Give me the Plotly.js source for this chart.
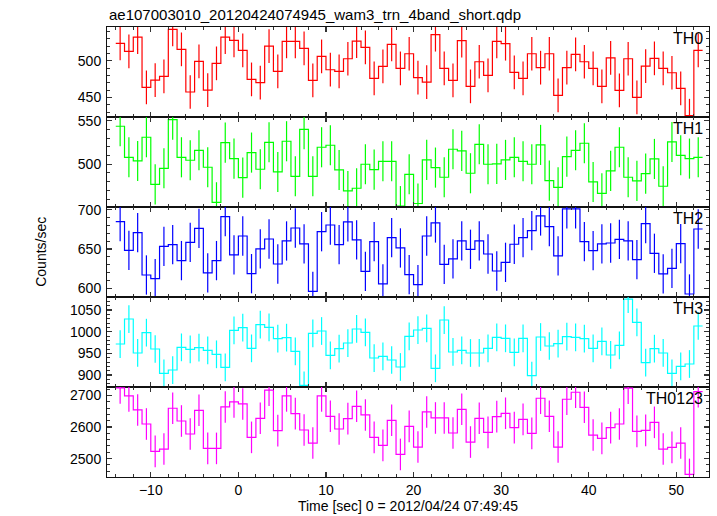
<!DOCTYPE html>
<html>
<head>
<meta charset="utf-8">
<script src="https://cdn.plot.ly/plotly-3.0.1.min.js"></script>
<style>html,body{margin:0;padding:0;background:#fff;}#chart{width:717px;height:516px;}</style>
</head>
<body>
<div id="chart"></div>
<script>
// ---- data ----
const time = [-13.5,-12.5,-11.5,-10.5,-9.5,-8.5,-7.5,-6.5,-5.5,-4.5,-3.5,-2.5,-1.5,-0.5,0.5,1.5,2.5,3.5,4.5,5.5,6.5,7.5,8.5,9.5,10.5,11.5,12.5,13.5,14.5,15.5,16.5,17.5,18.5,19.5,20.5,21.5,22.5,23.5,24.5,25.5,26.5,27.5,28.5,29.5,30.5,31.5,32.5,33.5,34.5,35.5,36.5,37.5,38.5,39.5,40.5,41.5,42.5,43.5,44.5,45.5,46.5,47.5,48.5,49.5,50.5,51.5,52.5];
const binHalfWidth = 0.5;

const th0 = [523.6,512.7,532.3,463.6,473.6,478.6,542.7,515.5,457.3,499,460,496.4,532.3,527.7,514,474.5,470,520,485.5,526.4,526.4,516.8,473.2,505.9,487.7,485.5,502.7,526.8,518.2,475.9,492.3,522.3,489.5,509.5,476.8,470.9,535.5,489.5,473.2,527.3,465,498.6,480,526.4,523.2,484.1,475.9,509.5,490.5,509.5,452.7,490.5,508.6,498.6,489.5,465,504,459.5,502.7,450,492.7,503.2,489.5,483.6,462.3,425,514];
const th1 = [543.6,508,503.8,531,477,495.4,551.2,508,504.6,516,496.6,456.4,524.8,506.5,484.7,513.4,494.3,525.2,491.2,526.4,486.2,540.1,486.2,519.5,521.8,493.5,469.4,472.5,500,493.9,503.4,503.4,452,488.5,455,505,496.2,485.1,517.2,515.3,489.7,522.9,500,500.4,505,508,503.4,500,522.2,481.3,473.6,508.8,516,524.1,479.7,466.7,492.4,519.5,485.1,480.9,489.3,506.1,474.8,525.6,510.3,506.5,508];
const th2 = [684.8,648.3,670.8,616.9,612.3,653.4,655.5,635.2,658.5,676.3,619.5,635.2,691.1,642.4,666.5,618.6,650,662.7,630.9,660.2,676.7,656.4,596.1,672,680.5,655.5,684.4,661.5,621.6,659.3,605.5,664.4,651.3,617.3,604.6,666.5,683.1,630.5,637.3,660.2,649.6,660.2,643.6,622,633,656,664.4,673.3,692,678.4,641.1,700.9,700.9,659.3,647.9,656.4,657.6,662.3,660.2,636.4,682.2,644.5,618.2,625.4,656.8,592.7,675.4];
const th3 = [971.5,1029.2,950.8,997.7,960,903.8,911.5,963.8,959.2,963.1,956.9,947.7,917.7,1003.1,1009.2,961.5,1016.2,1010,983.8,986.2,954.6,876,996.2,1001.5,945.4,960.8,973.8,1006.2,998.5,939.2,943.1,934.6,918.5,989.2,1003.8,1007.7,915.4,1026.9,953.1,956.9,950.8,950.8,961.5,986.9,984.6,952.3,984.6,898.5,987.7,966.9,972.3,988.5,986.9,983.8,961.5,977.7,946.2,968.5,1075,1021.5,928.5,960.8,950.8,903.8,920,925.4,1013.1];
const th0123 = [2723.8,2698.4,2654,2609.5,2522.8,2530.2,2659.3,2619,2577.8,2652.9,2532.3,2532.3,2663.5,2679.4,2673,2567.2,2627.5,2716.4,2588.4,2698.4,2642.3,2590.5,2549.2,2698.4,2633.9,2593.7,2626.5,2665.6,2638.1,2567.2,2541.8,2621.2,2513.2,2602.1,2536.5,2647.6,2628.6,2628.6,2581,2656.1,2552.4,2627.5,2583.1,2632.8,2643.4,2597.9,2624.3,2579.9,2691,2633.9,2536.5,2687.8,2710,2662.4,2574.6,2564,2597.9,2609.5,2722.8,2586.2,2589.4,2614.8,2530.2,2535.4,2549.2,2450,2712];
const panelNames = ['TH0','TH1','TH2','TH3','TH0123'];
const panelErrors = [23, 23, 25, 32, 50];

// ---- styling ----
const seriesList = [th0, th1, th2, th3, th0123];
const colors = ['#ff0000','#00ff00','#0000ff','#00ffff','#ff00ff'];
const yRanges = [[423.2,546],[451,554.2],[588.9,703.4],[872.3,1080],[2441.8,2726.6]];
const yDticks = [50,50,50,50,100];
const yMinor = [10,10,10,10,20];
const FONT = 'Liberation Sans, Arial, Helvetica, sans-serif';

const traces = [];
const layout = {
  width: 717, height: 516,
  margin: {l: 107, r: 8, t: 27, b: 39},
  paper_bgcolor: '#fff', plot_bgcolor: '#fff',
  showlegend: false,
  font: {family: FONT, size: 14, color: '#000'},
  annotations: []
};

seriesList.forEach((ys, i) => {
  const n = i + 1;
  const xa = n === 1 ? 'x' : 'x' + n;
  const ya = n === 1 ? 'y' : 'y' + n;
  // step edges built from bin centres
  const xs = time.map(t => t - binHalfWidth).concat([time[time.length - 1] + binHalfWidth]);
  const yStep = ys.concat([ys[ys.length - 1]]);
  traces.push({
    x: xs, y: yStep, xaxis: xa, yaxis: ya, type: 'scatter', mode: 'lines',
    line: {shape: 'hv', color: colors[i], width: 1.2}, hoverinfo: 'skip'
  });
  traces.push({
    x: time, y: ys, xaxis: xa, yaxis: ya, type: 'scatter', mode: 'markers',
    marker: {size: 1, color: colors[i], opacity: 0},
    error_y: {type: 'constant', value: panelErrors[i], width: 0, thickness: 1.2, color: colors[i]},
    hoverinfo: 'skip'
  });
  const d0 = (4 - i) * 0.2, d1 = (5 - i) * 0.2;
  const axCommon = {
    showline: true, linecolor: '#111', linewidth: 1, mirror: 'allticks',
    ticks: 'inside', ticklen: 5, tickwidth: 1.2, tickcolor: '#333',
    showgrid: false, zeroline: false,
    tickfont: {family: FONT, size: 14, color: '#000'}
  };
  layout['xaxis' + (n === 1 ? '' : n)] = Object.assign({}, axCommon, {
    anchor: ya, domain: [0, 1], range: [-15, 53.73],
    dtick: 10, tick0: 0,
    minor: {ticks: 'inside', dtick: 2, ticklen: 3, tickcolor: '#333', tickwidth: 1},
    showticklabels: i === 4,
    matches: n === 1 ? undefined : 'x'
  });
  layout['yaxis' + (n === 1 ? '' : n)] = Object.assign({}, axCommon, {
    anchor: xa, domain: [d0, d1], range: yRanges[i],
    dtick: yDticks[i], tick0: 0,
    minor: {ticks: 'inside', dtick: yMinor[i], ticklen: 3, tickcolor: '#333', tickwidth: 1},
    ticklabelstandoff: 2
  });
  layout.annotations.push({
    text: panelNames[i], xref: 'paper', yref: 'paper', x: 1, y: d1,
    xanchor: 'right', yanchor: 'top', xshift: -4, yshift: -1, showarrow: false,
    font: {family: FONT, size: 16, color: '#000'}
  });
});

layout.xaxis5.title = {text: 'Time [sec] 0 = 2012/04/24 07:49:45', font: {family: FONT, size: 14, color: '#000'}, standoff: 4};
layout.annotations.push({
  text: 'ae107003010_20120424074945_wam3_trn_4band_short.qdp', xref: 'paper', yref: 'paper',
  x: 0, y: 1, xanchor: 'left', yanchor: 'bottom', yshift: 2, showarrow: false,
  font: {family: FONT, size: 15, color: '#000'}
});
layout.annotations.push({
  text: 'Counts/sec', xref: 'paper', yref: 'paper', x: -0.11, y: 0.5,
  xanchor: 'center', yanchor: 'middle', textangle: -90, showarrow: false,
  font: {family: FONT, size: 14, color: '#000'}
});

Plotly.newPlot('chart', traces, layout, {staticPlot: true, displayModeBar: false});
</script>
</body>
</html>
